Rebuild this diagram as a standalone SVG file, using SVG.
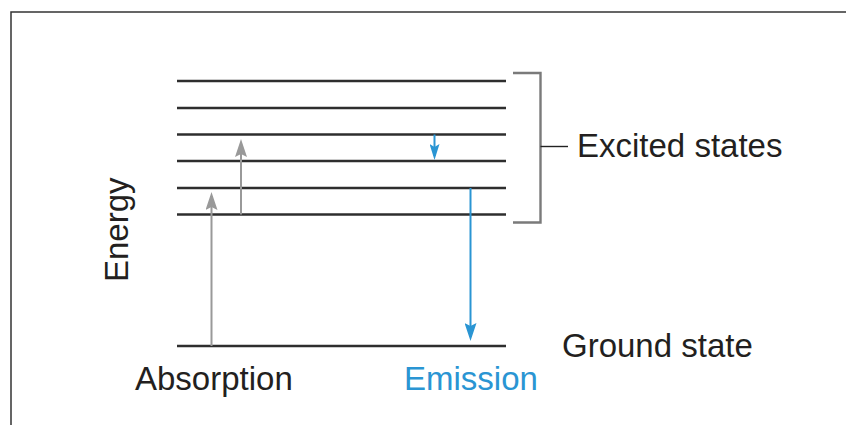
<svg xmlns="http://www.w3.org/2000/svg" width="846" height="425" viewBox="0 0 846 425">
<style>
.frame{fill:none;stroke:#333;stroke-width:1.5}
.lvl{stroke:#2e2e2e;stroke-width:2.4}
.brk{fill:none;stroke:#7a7a7a;stroke-width:2.4}
.tick{stroke:#222;stroke-width:1.4}
.abs{stroke:#999;stroke-width:2}
.emi{stroke:#2a95d3;stroke-width:2}
.t{font-family:"Liberation Sans",Arial,sans-serif;font-size:33px;fill:#231f20}
.tb{fill:#2a95d3}
</style>
<defs>
<marker id="hg" markerUnits="userSpaceOnUse" viewBox="0 0 18 12" refX="14" refY="6" markerWidth="18" markerHeight="12" orient="auto">
<path d="M0,0 L18,6 L0,12 L3,6 z" fill="#999"/>
</marker>
<marker id="hb" markerUnits="userSpaceOnUse" viewBox="0 0 16 10" refX="12" refY="5" markerWidth="16" markerHeight="10" orient="auto">
<path d="M0,0 L16,5 L0,10 L3,5 z" fill="#2a95d3"/>
</marker>
<marker id="hb2" markerUnits="userSpaceOnUse" viewBox="0 0 18 12" refX="14" refY="6" markerWidth="18" markerHeight="12" orient="auto">
<path d="M0,0 L18,6 L0,12 L3,6 z" fill="#2a95d3"/>
</marker>
</defs>
<rect width="846" height="425" fill="#fff"/>
<path class="frame" d="M11,425 V12 H846"/>
<g id="levels">
<line class="lvl" x1="177" y1="81" x2="506" y2="81"/>
<line class="lvl" x1="177" y1="108" x2="506" y2="108"/>
<line class="lvl" x1="177" y1="134.5" x2="506" y2="134.5"/>
<line class="lvl" x1="177" y1="161" x2="506" y2="161"/>
<line class="lvl" x1="177" y1="188" x2="506" y2="188"/>
<line class="lvl" x1="177" y1="214.5" x2="506" y2="214.5"/>
</g>
<g id="ground">
<line class="lvl" x1="177" y1="346" x2="506" y2="346"/>
<text class="t" x="562" y="357">Ground state</text>
</g>
<g id="excited">
<path class="brk" d="M513,73 H540.5 V222.5 H513"/>
<line class="tick" x1="540.5" y1="146.5" x2="568" y2="146.5"/>
<text class="t" x="577" y="157">Excited states</text>
</g>
<g id="energy">
<text class="t" transform="translate(128,282) rotate(-90)">Energy</text>
</g>
<g id="absorption">
<text class="t" x="135" y="390">Absorption</text>
</g>
<g id="emission">
<text class="t tb" x="404" y="390">Emission</text>
</g>
<g id="connectors">
<line class="abs" x1="211.5" y1="346" x2="211.5" y2="196" marker-end="url(#hg)"/>
<line class="abs" x1="241" y1="214.5" x2="241" y2="143" marker-end="url(#hg)"/>
<line class="emi" x1="434.5" y1="134.5" x2="434.5" y2="156" marker-end="url(#hb)"/>
<line class="emi" x1="470.5" y1="188" x2="470.5" y2="337" marker-end="url(#hb2)"/>
</g>
</svg>
